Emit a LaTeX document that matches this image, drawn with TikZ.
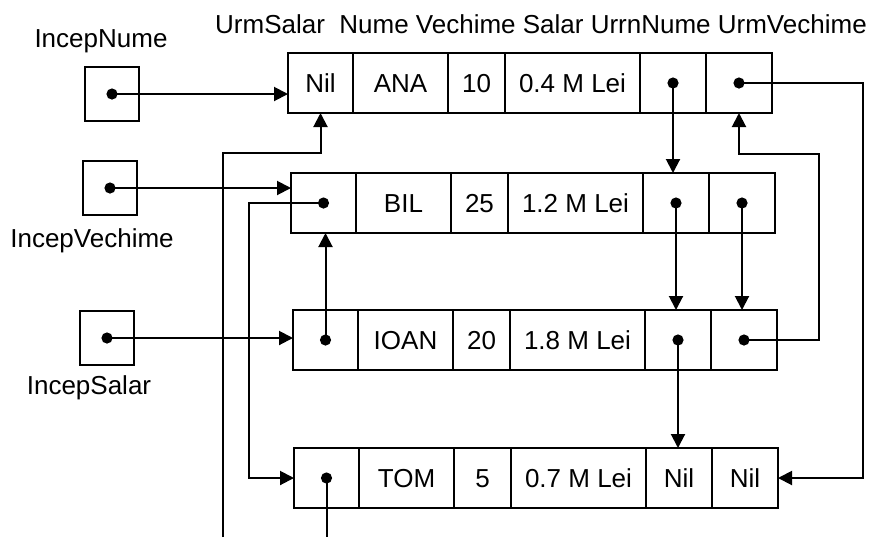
\documentclass[tikz,border=0pt]{standalone}
\usepackage{fontspec}
\setmainfont{Liberation Sans}
\usetikzlibrary{positioning, arrows.meta, calc}

\begin{document}
\begin{tikzpicture}[
    x=0.5pt, y=-0.5pt,
    every node/.style={font=\fontsize{13}{15}\selectfont},
    cell/.style={
        draw, line width=1pt,
        minimum height=30pt, inner sep=0pt, outer sep=0pt,
        text height=9.3pt, text depth=0pt,
    },
    urmsal/.style={cell, minimum width=32.5pt},
    nume/.style={cell, minimum width=47.5pt},
    vech/.style={cell, minimum width=28.5pt},
    sal/.style={cell, minimum width=67.5pt},
    urmnume/.style={cell, minimum width=33pt},
    urmvech/.style={cell, minimum width=33pt},
    head/.style={
        draw, line width=1pt, minimum size=27pt,
        inner sep=0pt, outer sep=0pt,
    },
    dot/.style={circle, fill, inner sep=0pt, minimum size=5.6pt},
    link/.style={line width=1pt, -{Triangle[length=7pt, width=7pt]}},
    wire/.style={line width=1pt},
]
\useasboundingbox (0,0) rectangle (884,537);

%--- Field names ---
\node (hdr) at (541,24) {UrmSalar\ \ Nume Vechime Salar UrrnNume UrmVechime};

%--- List heads ---
\node[head] (pnume) at (112,94) {};
\node[head] (pvech) at (110,188) {};
\node[head] (psal) at (107,338) {};
\node (lnume) at (101,41) {IncepNume};
\node (lvech) at (92,241) {IncepVechime};
\node (lsal) at (89,388) {IncepSalar};

%--- Record ANA ---
\node[urmsal, anchor=north west] (r1a) at (288,53) {Nil};
\node[nume, right=0pt of r1a] (r1b) {ANA};
\node[vech, right=0pt of r1b] (r1c) {10};
\node[sal, right=0pt of r1c] (r1d) {0.4 M Lei};
\node[urmnume, right=0pt of r1d] (r1e) {};
\node[urmvech, right=0pt of r1e] (r1f) {};

%--- Record BIL ---
\node[urmsal, anchor=north west] (r2a) at (291,173) {};
\node[nume, right=0pt of r2a] (r2b) {BIL};
\node[vech, right=0pt of r2b] (r2c) {25};
\node[sal, right=0pt of r2c] (r2d) {1.2 M Lei};
\node[urmnume, right=0pt of r2d] (r2e) {};
\node[urmvech, right=0pt of r2e] (r2f) {};

%--- Record IOAN ---
\node[urmsal, anchor=north west] (r3a) at (293,310) {};
\node[nume, right=0pt of r3a] (r3b) {IOAN};
\node[vech, right=0pt of r3b] (r3c) {20};
\node[sal, right=0pt of r3c] (r3d) {1.8 M Lei};
\node[urmnume, right=0pt of r3d] (r3e) {};
\node[urmvech, right=0pt of r3e] (r3f) {};

%--- Record TOM ---
\node[urmsal, anchor=north west] (r4a) at (294,448) {};
\node[nume, right=0pt of r4a] (r4b) {TOM};
\node[vech, right=0pt of r4b] (r4c) {5};
\node[sal, right=0pt of r4c] (r4d) {0.7 M Lei};
\node[urmnume, right=0pt of r4d] (r4e) {Nil};
\node[urmvech, right=0pt of r4e] (r4f) {Nil};

%--- Loose ends at the bottom edge ---
\coordinate (loopin) at (223,537);
\coordinate (loopout) at (r4a.center |- loopin);

%--- Heads -> first records ---
\draw[link] (pnume.center) node[dot] {} -- (pnume.center -| r1a.west);
\draw[link] (pvech.center) node[dot] {} -- (pvech.center -| r2a.west);
\draw[link] (psal.center) node[dot] {} -- (psal.center -| r3a.west);

%--- UrmSalar chain ---
\draw[link] (r3a.center) node[dot] {} -- (r3a.center |- r2a.south);
\draw[link] (r2a.center) node[dot] {} -- ++(-75,0) |- (r4a.west);
\draw[wire] (r4a.center) node[dot] {} -- (loopout);
\draw[link] (loopin) |- ($(r1a.south)+(0,40)$) -- (r1a.south);

%--- UrmNume chain ---
\draw[link] (r1e.center) node[dot] {} -- (r1e.center |- r2e.north);
\draw[link] (r2e.center) node[dot] {} -- (r2e.center |- r3e.north);
\draw[link] (r3e.center) node[dot] {} -- (r3e.center |- r4e.north);

%--- UrmVechime chain ---
\draw[link] (r2f.center) node[dot] {} -- (r2f.center |- r3f.north);
\draw[link] (r3f.center) node[dot] {} -- ++(75,0) |- ($(r1f.south)+(0,41)$) -- (r1f.south);
\draw[link] (r1f.center) node[dot] {} -- ++(124,0) |- (r4f.east);

\end{tikzpicture}
\end{document}
